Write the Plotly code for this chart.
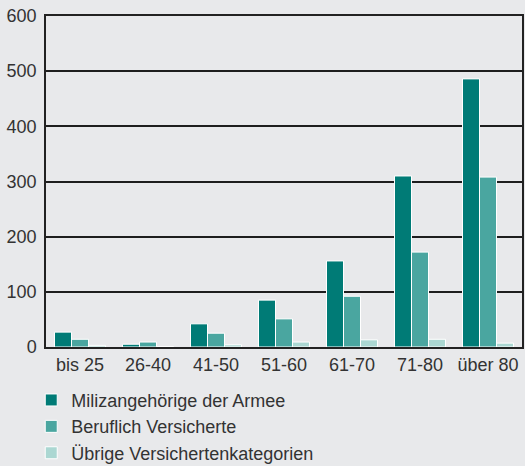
import plotly.graph_objects as go

# Altersgruppen und Werte
categories = ["bis 25", "26-40", "41-50", "51-60", "61-70", "71-80", "über 80"]
miliz = [27, 5, 42, 85, 156, 310, 486]
beruflich = [14, 9, 25, 51, 92, 172, 308]
uebrige = [3, 1, 4, 9, 13, 14, 7]

series_names = ["Milizangehörige der Armee", "Beruflich Versicherte", "Übrige Versichertenkategorien"]
colors = ["#007b76", "#4aa6a0", "#abd7d2"]

bg = "#e8e9eb"

fig = go.Figure()
for name, vals, col in zip(series_names, [miliz, beruflich, uebrige], colors):
    fig.add_trace(go.Bar(
        x=categories, y=vals, name=name, legendgroup=name,
        marker=dict(color=col, line=dict(color="white", width=1)),
    ))

fig.update_layout(
    width=525, height=466,
    margin=dict(l=46, r=3, t=16, b=119, autoexpand=False),
    paper_bgcolor=bg, plot_bgcolor=bg,
    barmode="group", bargap=0.25, bargroupgap=0,
    font=dict(family="Liberation Sans, Arial, sans-serif", size=18, color="#333333"),
    showlegend=True,
    legend=dict(
        x=-0.031, xanchor="left", y=-0.105, yanchor="top",
        orientation="v", tracegroupgap=0,
        font=dict(size=18, color="#333333"),
        bgcolor="rgba(0,0,0,0)",
    ),
)

fig.update_yaxes(
    range=[0, 600], dtick=100,
    showgrid=True, gridcolor="#1e1e1e", gridwidth=1.5,
    showline=True, linecolor="#222222", linewidth=1.5, mirror=True,
    zeroline=False, ticks="", ticklabelstandoff=4,
)
fig.update_xaxes(
    showgrid=False, showline=True, linecolor="#222222", linewidth=1.5, mirror=True,
    ticks="", tickfont=dict(size=18), ticklabelstandoff=1,
)

# remove the default page margin so the figure sits at the window's corner
fig.write_html("out.html", config={"displayModeBar": False},
               post_script="document.body.style.margin='0px';")
